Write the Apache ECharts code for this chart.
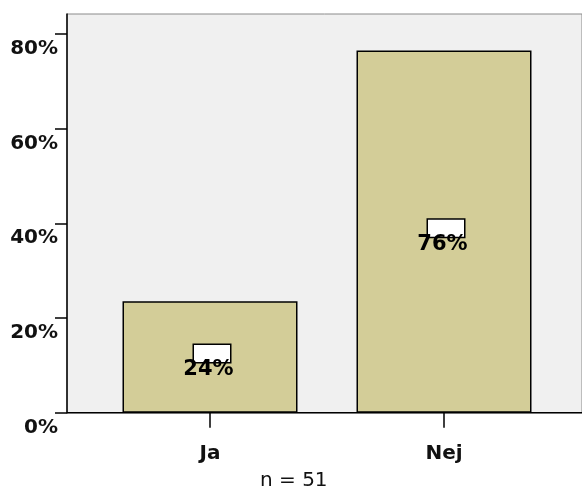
<!DOCTYPE html>
<html>
<head>
<meta charset="utf-8">
<script src="https://cdn.jsdelivr.net/npm/echarts@6/dist/echarts.min.js"></script>
<style>html,body{margin:0;padding:0;background:#fff;}#c{width:582px;height:490px;}</style>
</head>
<body>
<div id="c"></div>
<script>
const categories = ['Ja', 'Nej'];
const percentValues = [23.53, 76.47];
const valueLabels = ['24%', '76%'];
const yMax = 84.2;
const yInterval = 20;
const footnote = 'n = 51';

const FONT = 'DejaVu Sans';
const chart = echarts.init(document.getElementById('c'));
chart.setOption({
  animation: false,
  backgroundColor: '#ffffff',
  grid: [
    { left: 67, right: -2, top: 14, bottom: 77.3, show: true, backgroundColor: '#f0f0f0', borderColor: '#8a8a8a', borderWidth: 1 },
    { left: 93, right: 21, top: 14, bottom: 77.3 }
  ],
  xAxis: [
    { gridIndex: 0, type: 'value', min: 0, max: 1, show: false },
    { gridIndex: 1, type: 'category', data: categories,
      axisLine: { show: false },
      axisTick: { show: true, alignWithLabel: true, length: 15, lineStyle: { color: '#000', width: 1.5 } },
      axisLabel: { margin: 31, fontFamily: FONT, fontWeight: 'bold', fontSize: 20, color: '#111', lineHeight: 20 },
      splitLine: { show: false }
    }
  ],
  yAxis: [
    { gridIndex: 0, type: 'value', min: 0, max: yMax, interval: yInterval,
      axisLine: { show: true, lineStyle: { color: '#000', width: 1.5 } },
      axisTick: { show: true, length: 12, lineStyle: { color: '#000', width: 1.5 } },
      axisLabel: { margin: 9, fontFamily: FONT, fontWeight: 'bold', fontSize: 20, color: '#111', lineHeight: 20,
                   verticalAlign: 'top', padding: [5, 0, 0, 0], formatter: v => Math.round(v) + '%' },
      splitLine: { show: false }
    },
    { gridIndex: 1, type: 'value', min: 0, max: yMax, interval: yInterval, show: false, splitLine: { show: false } }
  ],
  graphic: [
    { type: 'line', shape: { x1: 67, y1: 412.7, x2: 582, y2: 412.7 }, style: { stroke: '#000', lineWidth: 1.5 }, z: 5 },
    { type: 'text', left: 260, top: 471, style: { text: footnote, font: '20px "DejaVu Sans"', fill: '#111' } }
  ],
  series: [
    { type: 'bar', xAxisIndex: 1, yAxisIndex: 1, data: percentValues, barWidth: 175,
      itemStyle: { color: '#d3cd98', borderColor: '#000', borderWidth: 1.5 },
      label: { show: true, position: 'inside', offset: [2, -3.5], formatter: ' ',
               width: 36, height: 17, backgroundColor: '#ffffff', borderColor: '#000', borderWidth: 1.5, fontSize: 10 }
    },
    { type: 'bar', xAxisIndex: 1, yAxisIndex: 1, data: percentValues, barWidth: 175, barGap: '-100%',
      itemStyle: { color: 'rgba(0,0,0,0)', borderWidth: 0 }, silent: true,
      label: { show: true, position: 'inside', offset: [-1.5, 13], formatter: p => valueLabels[p.dataIndex],
               fontFamily: FONT, fontWeight: 'bold', fontSize: 21, color: '#000' }
    }
  ]
});
</script>
</body>
</html>
